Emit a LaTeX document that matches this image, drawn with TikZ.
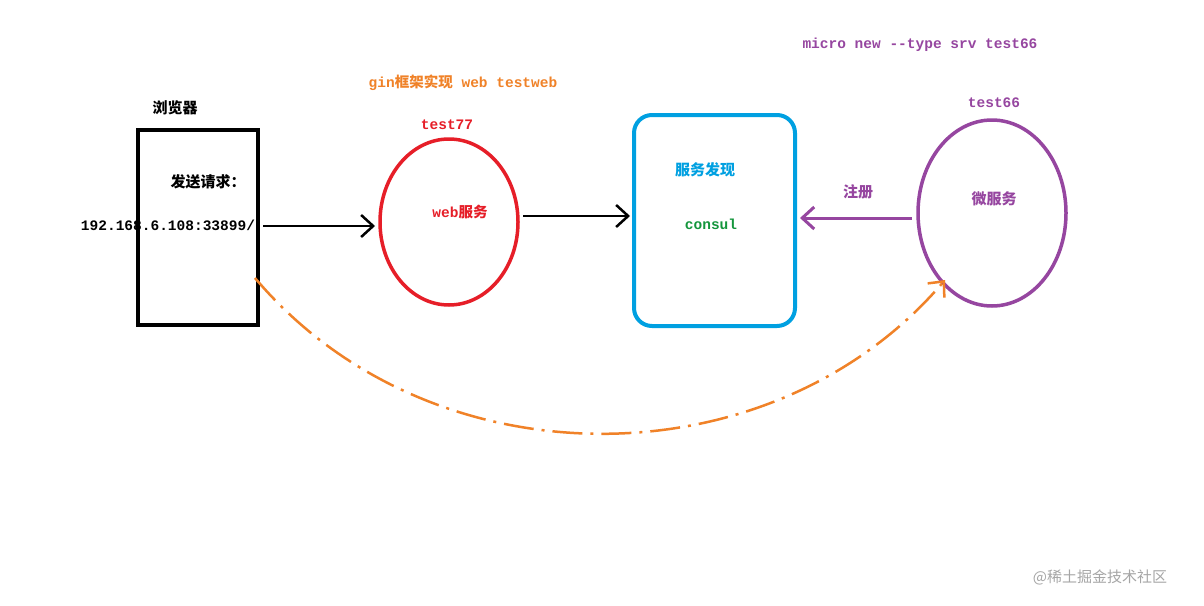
\documentclass[tikz,border=0pt]{standalone}
\usepackage{fontspec}
\setmainfont{Liberation Mono}
\newfontfamily\cjk{Noto Sans CJK SC}
\usetikzlibrary{arrows.meta,positioning}
\definecolor{webred}{RGB}{230,30,40}
\definecolor{consulblue}{RGB}{0,160,225}
\definecolor{srvpurple}{RGB}{150,70,160}
\definecolor{ginorange}{RGB}{240,130,40}
\definecolor{consulgreen}{RGB}{20,150,60}
\tikzset{
    lblsty/.style={font=\bfseries\fontsize{14.5}{16}\selectfont},
    cnsty/.style={font=\cjk\bfseries\fontsize{15}{17}\selectfont},
    arrsty/.style={-{Straight Barb[length=12pt,width=22pt]}},
}
\begin{document}
\begin{tikzpicture}[x=1pt,y=1pt]
\useasboundingbox[fill=white] (0,0) rectangle (1204,-605);
% browser
\draw[line width=4pt] (138,-130) rectangle (258,-325);
\node[cnsty] (browser) at (175,-108) {浏览器};
\node[cnsty] (send) at (208,-182) {发送请求：};
\node[lblsty] (addr) at (168,-225) {192.168.6.108:33899/};
% web service
\draw[webred,line width=3.5pt] (449,-222) ellipse (69 and 83);
\node[lblsty,text=webred] (t77) at (447,-125) {test77};
\node[lblsty,text=webred] (web) at (460,-212) {web{\cjk 服务}};
% consul
\draw[consulblue,line width=4pt,rounded corners=18pt] (634,-115) rectangle (795,-326);
\node[cnsty,text=consulblue] (disc) at (705,-170) {服务发现};
\node[lblsty,text=consulgreen] (consul) at (711,-224) {consul};
% micro service
\draw[srvpurple,line width=3.5pt] (992,-213) ellipse (74 and 93);
\node[lblsty,text=srvpurple] (t66) at (994,-103) {test66};
\node[cnsty,text=srvpurple] (micro) at (994,-199) {微服务};
\node[cnsty,text=srvpurple] (reg) at (858,-192) {注册};
\node[lblsty,text=srvpurple] (cmd) at (920,-45) {micro new {-}{-}type srv test66};
\node[lblsty,text=ginorange] (gin) at (463,-83) {gin{\cjk 框架实现} web testweb};
% connectors
\coordinate (a1) at (263,-226); \coordinate (a2) at (375,-226);
\coordinate (b1) at (523,-216); \coordinate (b2) at (630,-216);
\coordinate (c1) at (912,-218); \coordinate (c2) at (800,-218);
\draw[arrsty,line width=2.5pt] (a1) -- (a2);
\draw[arrsty,line width=2.5pt] (b1) -- (b2);
\draw[arrsty,line width=3pt,srvpurple] (c1) -- (c2);
\coordinate (d1) at (255,-278); \coordinate (d2) at (945,-280);
\draw[arrsty,ginorange,line width=2.5pt,dash pattern=on 30pt off 8pt on 3pt off 8pt]
  (d1) .. controls (430,-485) and (770,-485) .. (d2);
\node[font=\cjk\fontsize{15}{17}\selectfont,text=gray!70] (wm) at (1100,-577) {@稀土掘金技术社区};
\end{tikzpicture}
\end{document}
